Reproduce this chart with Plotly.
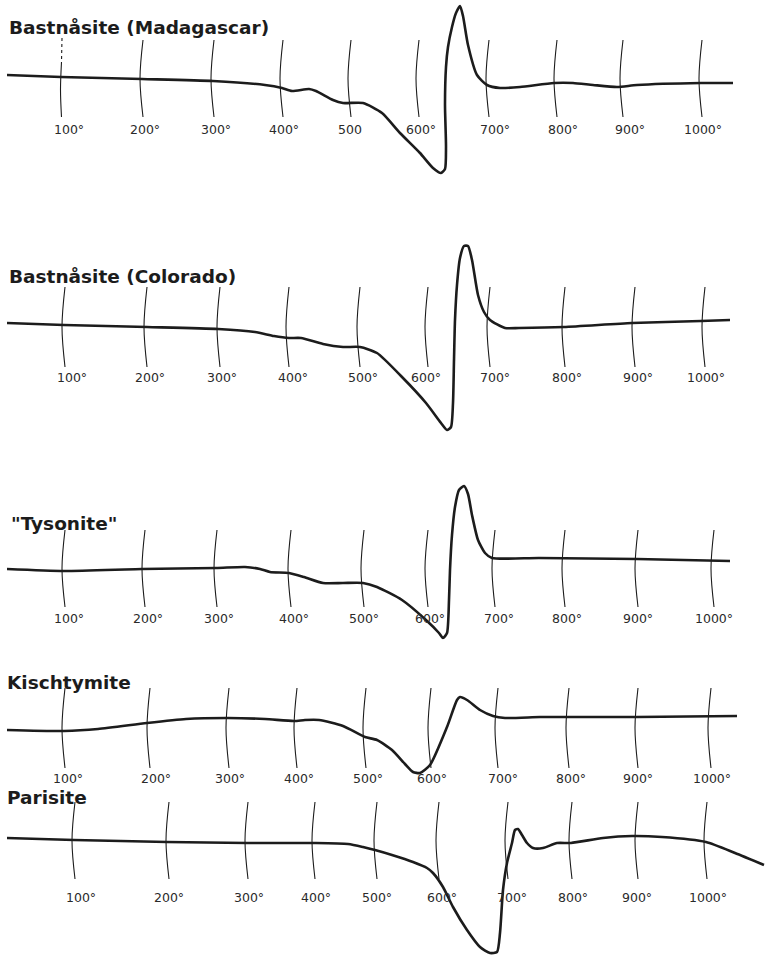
import plotly.graph_objects as go

W, H = 765, 956

# ---------------- data ----------------
names = ["Bastnåsite (Madagascar)", "Bastnåsite (Colorado)", "\"Tysonite\"",
         "Kischtymite", "Parisite"]

temps = [100, 200, 300, 400, 500, 600, 700, 800, 900, 1000]
tick_labels_1 = ["100°", "200°", "300°", "400°", "500", "600°", "700°", "800°", "900°", "1000°"]
tick_labels = ["100°", "200°", "300°", "400°", "500°", "600°", "700°", "800°", "900°", "1000°"]

# chart distance (recorder travel) and DTA deflection (up = exothermic)
dist_1 = [7, 61, 142, 213, 265, 282, 292, 309, 316, 333, 343, 363, 382, 400, 420, 433, 441, 445, 446, 445,
          446, 448, 452, 456, 460, 463, 468, 477, 487, 500, 520, 554, 573, 593, 617, 637, 701, 733]
dta_1 = [0, -2, -4, -6, -10, -13, -16, -14, -16, -25, -28, -28, -38, -58, -78, -93, -98, -94, -72, -30,
         8, 28, 48, 62, 69, 59, 30, 0, -10, -13, -12, -8, -8, -10, -12, -10, -8, -8]

dist_2 = [7, 64, 147, 218, 255, 274, 289, 301, 323, 343, 360, 377, 402, 426, 441, 447, 451, 453, 454, 455,
          457, 460, 464, 468, 472, 478, 484, 490, 505, 519, 564, 632, 701, 730]
dta_2 = [0, -2, -4, -6, -9, -13, -15, -15, -21, -24, -24, -30, -54, -80, -100, -107, -104, -80, -37, 3,
         38, 65, 77, 77, 63, 28, 11, 3, -5, -5, -4, 0, 2, 3]

dist_3 = [7, 64, 142, 216, 245, 260, 270, 289, 304, 323, 343, 363, 377, 402, 426, 439, 443, 447, 449, 450,
          452, 455, 459, 464, 468, 472, 478, 485, 492, 539, 637, 730]
dta_3 = [0, -2, 0, 1, 2, 0, -3, -4, -8, -14, -14, -14, -18, -31, -51, -64, -69, -64, -31, -1,
         34, 62, 79, 83, 75, 54, 29, 16, 11, 11, 10, 8]

dist_4 = [7, 64, 98, 147, 186, 228, 265, 294, 305, 319, 343, 365, 377, 392, 405, 413, 420, 430, 447, 457,
          460, 467, 480, 493, 505, 540, 568, 637, 737]
dta_4 = [0, -1, 1, 7, 11, 12, 11, 9, 10, 10, 4, -7, -10, -20, -34, -42, -43, -35, 3, 30,
         33, 30, 20, 14, 12, 13, 13, 13, 14]

dist_5 = [7, 74, 167, 247, 314, 348, 363, 375, 392, 413, 427, 433, 443, 453, 467, 480, 490, 497, 500, 503,
          507, 512, 515, 518, 522, 527, 533, 543, 557, 571, 603, 632, 662, 706, 735, 764]
dta_5 = [0, -2, -4, -5, -5, -6, -9, -12, -17, -24, -30, -35, -49, -69, -92, -109, -115, -114, -95, -52,
         -25, -5, 8, 9, 3, -5, -10, -10, -5, -5, 0, 2, 1, -4, -15, -27]

# temperature marks: chart distance at which each temperature was marked
marks_1 = [61, 142, 213, 282, 350, 418, 488, 556, 622, 701]
marks_2 = [64, 146, 219, 288, 359, 427, 489, 564, 634, 704]
marks_3 = [64, 144, 216, 290, 363, 427, 494, 564, 637, 713]
marks_4 = [64, 149, 228, 296, 365, 430, 497, 568, 637, 710]
marks_5 = [74, 168, 247, 314, 376, 438, 507, 571, 637, 706]

# ---------------- layout (pixel geometry of each strip) ----------------
geom = [
    dict(top=0,   bot=190, base=75,  mt=40,  mb=117, lab=129, tit=27,  tx=7,
         labx=[69, 145, 216, 284, 350, 421, 495, 563, 630, 703]),
    dict(top=230, bot=440, base=323, mt=287, mb=367, lab=377, tit=276, tx=7,
         labx=[72, 150, 222, 293, 363, 426, 495, 567, 638, 706]),
    dict(top=470, bot=650, base=569, mt=530, mb=607, lab=618, tit=523, tx=9,
         labx=[69, 148, 219, 294, 364, 430, 499, 567, 638, 714]),
    dict(top=655, bot=790, base=730, mt=688, mb=768, lab=778, tit=682, tx=5,
         labx=[68, 156, 230, 299, 368, 432, 503, 571, 638, 712]),
    dict(top=785, bot=956, base=838, mt=802, mb=879, lab=897, tit=797, tx=5,
         labx=[81, 169, 249, 316, 377, 442, 512, 573, 637, 708]),
]

curves = [(dist_1, dta_1), (dist_2, dta_2), (dist_3, dta_3), (dist_4, dta_4), (dist_5, dta_5)]
marks = [marks_1, marks_2, marks_3, marks_4, marks_5]
labels = [tick_labels_1, tick_labels, tick_labels, tick_labels, tick_labels]

INK = "#1c1c1c"
FONT = "DejaVu Sans"

fig = go.Figure()
layout = dict(
    width=W, height=H, margin=dict(l=0, r=0, t=0, b=0),
    paper_bgcolor="white", plot_bgcolor="rgba(0,0,0,0)", showlegend=False,
    xaxis=dict(range=[0, W], domain=[0, 1], visible=False, fixedrange=True),
)
annotations = []

for k, g in enumerate(geom):
    yname = "y" if k == 0 else f"y{k+1}"
    akey = "yaxis" if k == 0 else f"yaxis{k+1}"
    b = g["base"]
    layout[akey] = dict(domain=[1 - g["bot"] / H, 1 - g["top"] / H],
                        range=[b - g["bot"], b - g["top"]],
                        visible=False, fixedrange=True, anchor="x")
    d_top, d_bot = b - g["mt"], b - g["mb"]
    d_mid = (d_top + d_bot) / 2
    for j, mx in enumerate(marks[k]):
        if k == 0 and j == 0:
            fig.add_trace(go.Scatter(x=[mx + 1, mx + 0.5], y=[d_top + 2, b - 62], xaxis="x", yaxis=yname,
                                     mode="lines", line=dict(color=INK, width=1.1, dash="3px,3px"),
                                     hoverinfo="skip"))
            fig.add_trace(go.Scatter(x=[mx + 0.5, mx - 0.5, mx + 0.5], y=[b - 62, (b - 62 + d_bot) / 2, d_bot],
                                     xaxis="x", yaxis=yname, mode="lines",
                                     line=dict(color=INK, width=1.1, shape="spline"), hoverinfo="skip"))
            continue
        fig.add_trace(go.Scatter(x=[mx + 1, mx - 2, mx + 1], y=[d_top, d_mid, d_bot],
                                 xaxis="x", yaxis=yname, mode="lines",
                                 line=dict(color=INK, width=1.1, shape="spline", smoothing=1),
                                 hoverinfo="skip"))
    xs, ys = curves[k]
    fig.add_trace(go.Scatter(x=xs, y=ys, xaxis="x", yaxis=yname, mode="lines",
                             line=dict(color=INK, width=2.6, shape="spline", smoothing=0.6),
                             hoverinfo="skip"))
    annotations.append(dict(x=g["tx"], y=b - g["tit"], xref="x", yref=yname,
                            text=f"<b>{names[k]}</b>",
                            showarrow=False, xanchor="left", yanchor="middle",
                            font=dict(family=FONT, size=18.5, color=INK)))
    for j, t in enumerate(labels[k]):
        annotations.append(dict(x=g["labx"][j], y=b - g["lab"], xref="x", yref=yname, text=t,
                                showarrow=False, xanchor="center", yanchor="middle",
                                font=dict(family=FONT, size=12.5, color="#2a2a2a")))

layout["annotations"] = annotations
fig.update_layout(**layout)
fig.write_html("out.html", config={"displayModeBar": False},
               post_script="document.body.style.margin='0';document.body.style.padding='0';")
